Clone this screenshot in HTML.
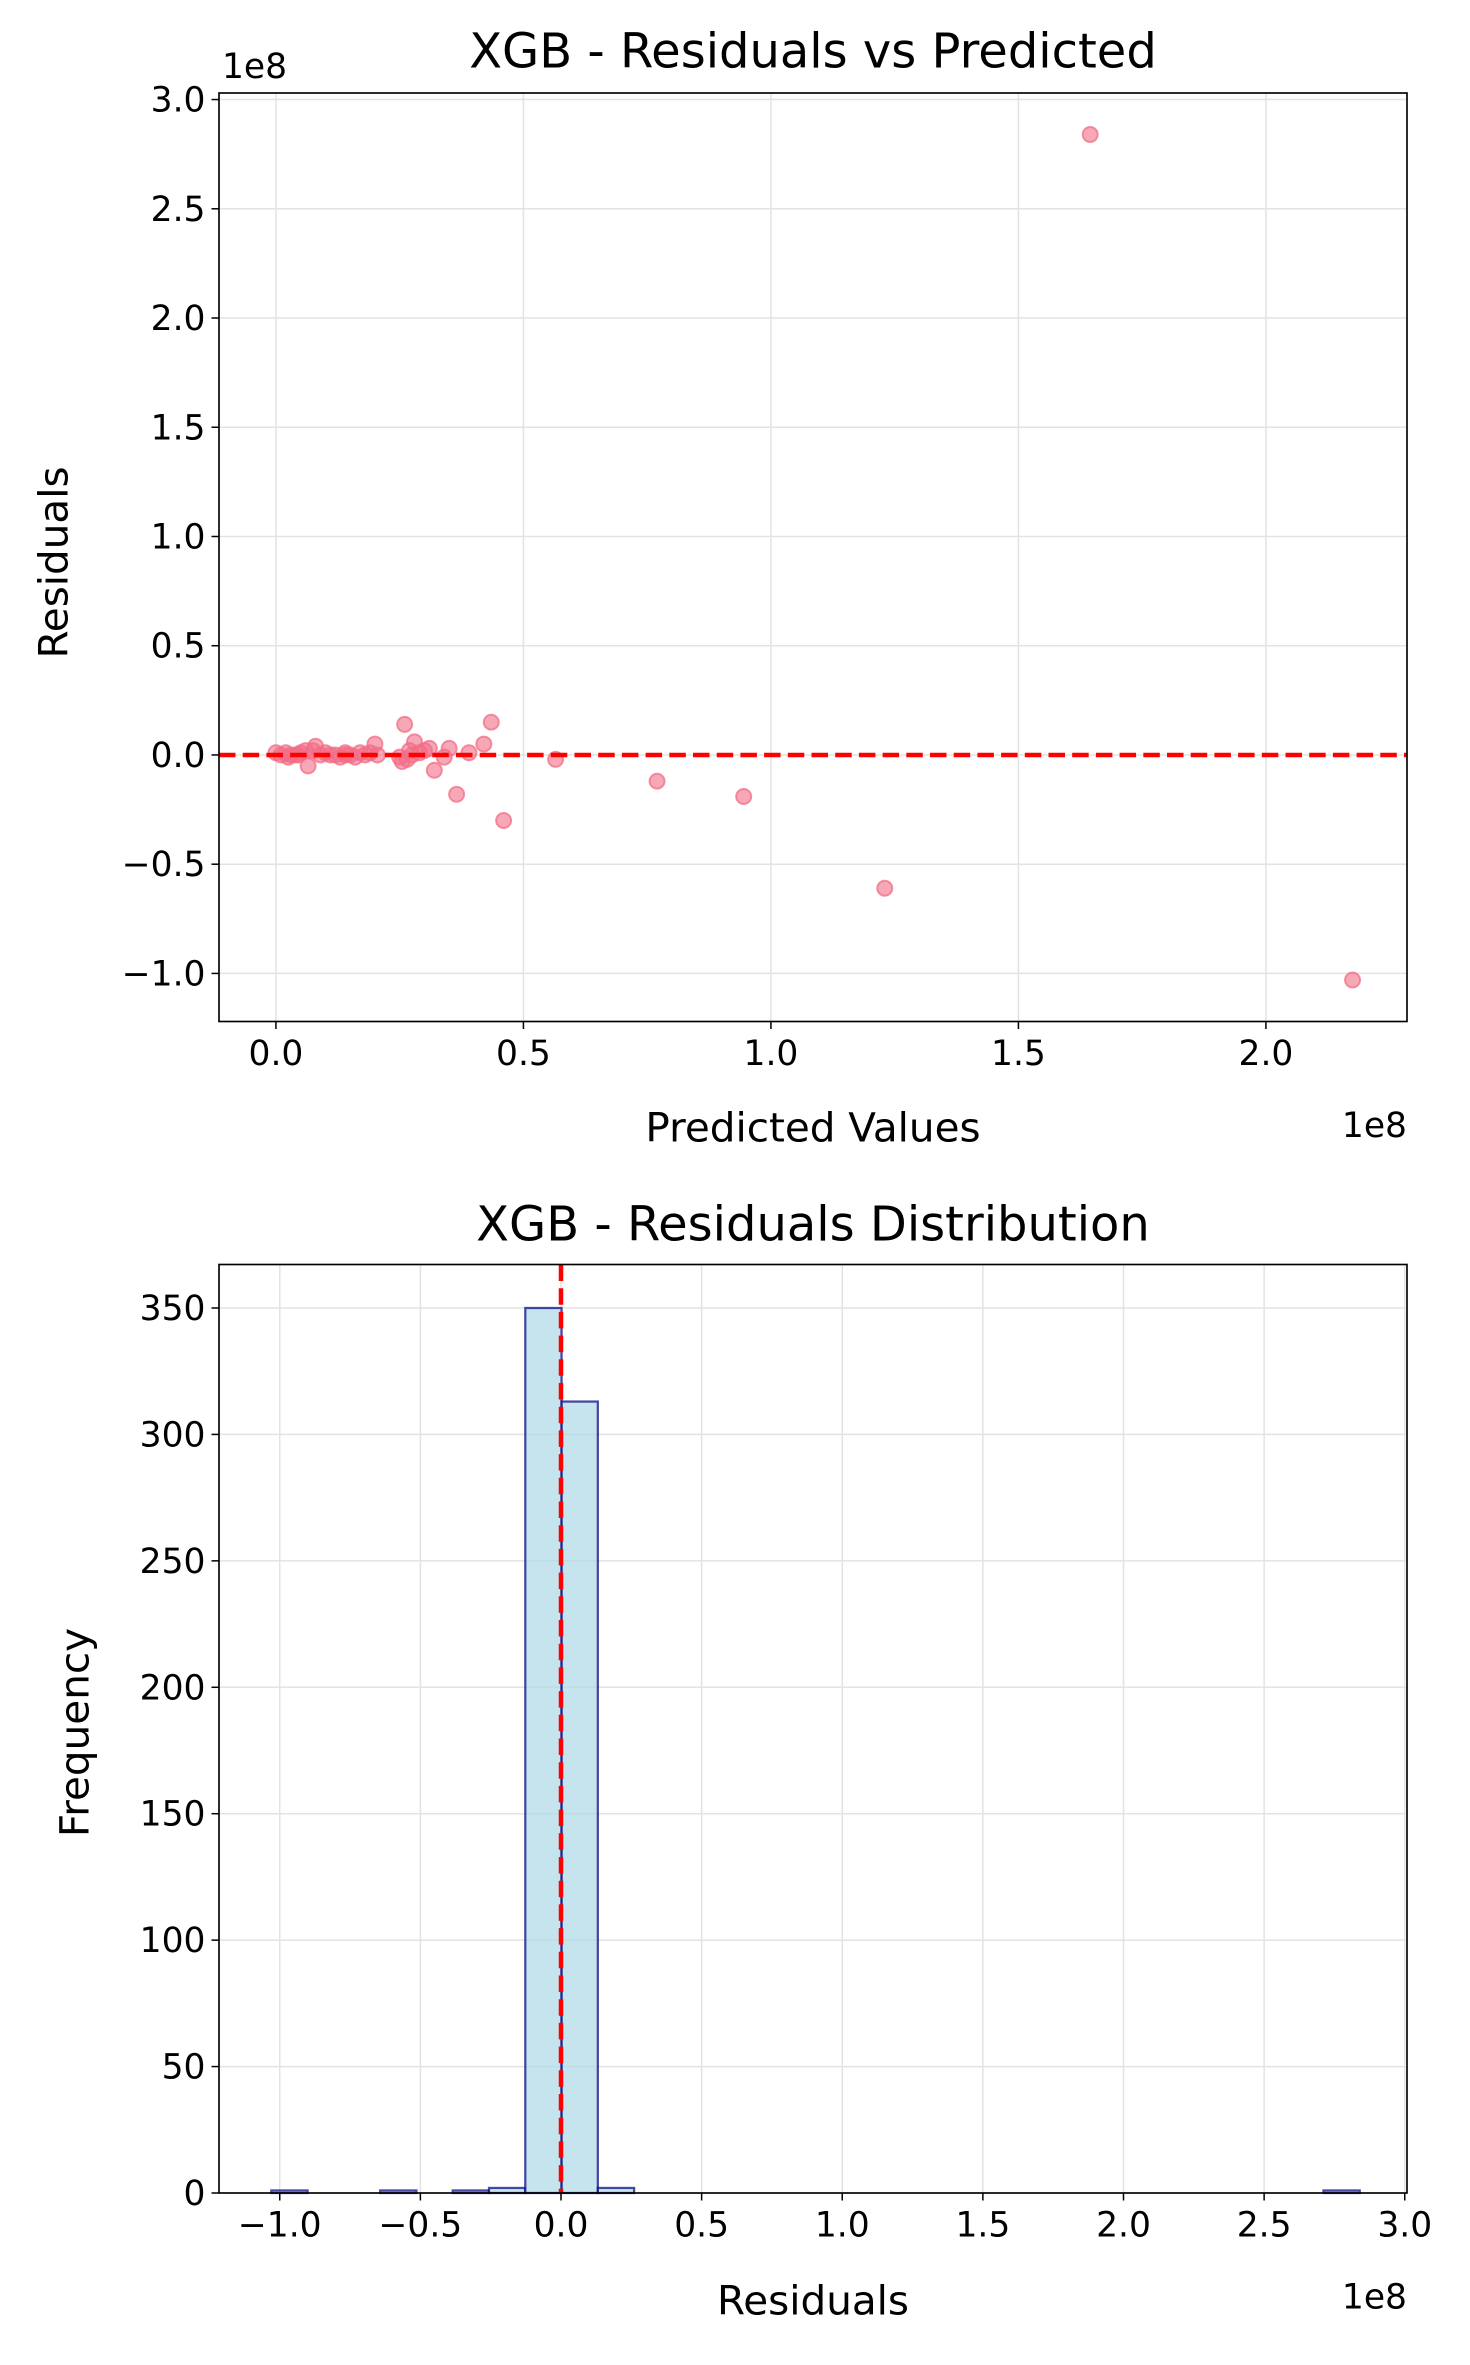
<!DOCTYPE html>
<html><head><meta charset="utf-8"><style>
html,body{margin:0;padding:0;background:#fff}
svg{display:block;font-family:"DejaVu Sans","Liberation Sans",sans-serif}
</style></head><body>
<svg id="fig" width="1470" height="2365" viewBox="0 0 980 1576.67" xmlns="http://www.w3.org/2000/svg">
<rect width="980" height="1576.67" fill="#fff"/>
<g id="top"></g>
<g id="bot"></g>
</svg>
<script>
// Scatter data (units of 1e8)
const predX = [1.645,2.175,1.23,0.945,0.77,0.565,0.46,0.365,0.435,0.26,0.42,0.39,0.35,0.32,0.30,0.28,0.275,0.265,0.25,0.255,0.27,0.29,0.31,0.34,0.065,0.08,0.0,0.01,0.02,0.03,0.04,0.05,0.06,0.09,0.10,0.11,0.12,0.13,0.14,0.15,0.16,0.17,0.18,0.19,0.2,0.205,0.075,0.045,0.14,0.025];
const resid = [2.84,-1.03,-0.61,-0.19,-0.12,-0.02,-0.30,-0.18,0.15,0.14,0.05,0.01,0.03,-0.07,0.02,0.06,0.0,-0.02,-0.01,-0.03,0.02,0.01,0.03,-0.01,-0.05,0.04,0.01,0.0,0.01,0.0,0.0,0.01,0.02,0.0,0.01,0.0,0.0,-0.01,0.0,0.0,-0.01,0.01,0.0,0.01,0.05,0.0,0.02,0.0,0.01,-0.01];
const xTicks1 = [0,0.5,1.0,1.5,2.0];
const xTickLabels1 = ["0.0","0.5","1.0","1.5","2.0"];
const yTicks1 = [-1.0,-0.5,0,0.5,1.0,1.5,2.0,2.5,3.0];
const yTickLabels1 = ["\u22121.0","\u22120.5","0.0","0.5","1.0","1.5","2.0","2.5","3.0"];
// Histogram data
const binStart = -1.03;
const binWidth = 0.129;
const binCounts = [1,0,0,1,0,1,2,350,313,2,0,0,0,0,0,0,0,0,0,0,0,0,0,0,0,0,0,0,0,1];
const xTicks2 = [-1.0,-0.5,0,0.5,1.0,1.5,2.0,2.5,3.0];
const xTickLabels2 = ["\u22121.0","\u22120.5","0.0","0.5","1.0","1.5","2.0","2.5","3.0"];
const yTicks2 = [0,50,100,150,200,250,300,350];

const NS="http://www.w3.org/2000/svg";
function mk(p,tag,attrs,txt){const e=document.createElementNS(NS,tag);for(const k in attrs)e.setAttribute(k,attrs[k]);if(txt!==undefined)e.textContent=txt;p.appendChild(e);return e;}
const FS=23, LS=27, TS=32;

// ---------- top chart ----------
const T=document.getElementById('top');
const L1=146,R1=938,T1=62,B1=681;
const sx1=v=>L1+(v-(-0.115))/(2.285-(-0.115))*(R1-L1);
const sy1=v=>B1-(v-(-1.22))/(3.03-(-1.22))*(B1-T1);
for(const t of xTicks1){const l=mk(T,'line',{x1:sx1(t),x2:sx1(t),y1:T1,y2:B1,stroke:'#e3e3e3','stroke-width':1});

}
for(const t of yTicks1){const l=mk(T,'line',{x1:L1,x2:R1,y1:sy1(t),y2:sy1(t),stroke:'#e3e3e3','stroke-width':1});

}
for(let i=0;i<predX.length;i++){const c=mk(T,'circle',{cx:sx1(predX[i]),cy:sy1(resid[i]),r:5,fill:'rgba(242,110,135,0.6)',stroke:'rgba(242,110,135,0.75)','stroke-width':1.3});

}
const z1=mk(T,'line',{x1:L1,x2:R1,y1:sy1(0),y2:sy1(0),stroke:'#ff0000','stroke-width':3,'stroke-dasharray':'11,4.8'});


mk(T,'rect',{x:L1,y:T1,width:R1-L1,height:B1-T1,fill:'none',stroke:'#000','stroke-width':1.1});
for(let i=0;i<xTicks1.length;i++){const x=sx1(xTicks1[i]);mk(T,'line',{x1:x,x2:x,y1:B1,y2:B1+5,stroke:'#000'});
const t=mk(T,'text',{x:x,y:B1+29,'text-anchor':'middle','font-size':FS},xTickLabels1[i]);

}
for(let i=0;i<yTicks1.length;i++){const y=sy1(yTicks1[i]);mk(T,'line',{x1:L1-5,x2:L1,y1:y,y2:y,stroke:'#000'});
const t=mk(T,'text',{x:L1-9,y:y+8,'text-anchor':'end','font-size':FS},yTickLabels1[i]);

}
mk(T,'text',{x:148,y:52,'font-size':FS,},'1e8');
mk(T,'text',{x:938,y:758,'font-size':FS,'text-anchor':'end',},'1e8');
mk(T,'text',{x:542,y:45,'font-size':TS,'text-anchor':'middle',},'XGB - Residuals vs Predicted');
mk(T,'text',{x:542,y:761,'font-size':LS,'text-anchor':'middle',},'Predicted Values');
mk(T,'text',{x:45,y:375,'font-size':LS,'text-anchor':'middle',transform:'rotate(-90 45 375)',},'Residuals');

// ---------- bottom chart ----------
const Bg=document.getElementById('bot');
const L2=146,R2=938,T2=843,B2=1462;
const sx2=v=>374+v*187.5;
const sy2=v=>B2-v*(1462-872)/350;
for(const t of xTicks2){const l=mk(Bg,'line',{x1:sx2(t),x2:sx2(t),y1:T2,y2:B2,stroke:'#e3e3e3','stroke-width':1});

}
for(const t of yTicks2){const l=mk(Bg,'line',{x1:L2,x2:R2,y1:sy2(t),y2:sy2(t),stroke:'#e3e3e3','stroke-width':1});

}
for(let i=0;i<binCounts.length;i++){const x0=sx2(binStart+i*binWidth),x1=sx2(binStart+(i+1)*binWidth);
const r=mk(Bg,'rect',{x:x0,y:sy2(binCounts[i]),width:x1-x0,height:B2-sy2(binCounts[i]),fill:'rgba(173,216,230,0.7)',stroke:'rgba(0,0,128,0.7)','stroke-width':1.5});

}
const z2=mk(Bg,'line',{x1:sx2(0),x2:sx2(0),y1:T2,y2:B2,stroke:'#ff0000','stroke-width':3,'stroke-dasharray':'11,4.8'});


mk(Bg,'rect',{x:L2,y:T2,width:R2-L2,height:B2-T2,fill:'none',stroke:'#000','stroke-width':1.1});
for(let i=0;i<xTicks2.length;i++){const x=sx2(xTicks2[i]);mk(Bg,'line',{x1:x,x2:x,y1:B2,y2:B2+5,stroke:'#000'});
const t=mk(Bg,'text',{x:x,y:B2+29,'text-anchor':'middle','font-size':FS},xTickLabels2[i]);

}
for(const v of yTicks2){const y=sy2(v);mk(Bg,'line',{x1:L2-5,x2:L2,y1:y,y2:y,stroke:'#000'});
const t=mk(Bg,'text',{x:L2-9,y:y+8,'text-anchor':'end','font-size':FS},String(v));

}
mk(Bg,'text',{x:938,y:1539,'font-size':FS,'text-anchor':'end',},'1e8');
mk(Bg,'text',{x:542,y:827,'font-size':TS,'text-anchor':'middle',},'XGB - Residuals Distribution');
mk(Bg,'text',{x:542,y:1543,'font-size':LS,'text-anchor':'middle',},'Residuals');
mk(Bg,'text',{x:59,y:1155,'font-size':LS,'text-anchor':'middle',transform:'rotate(-90 59 1155)',},'Frequency');
</script>
</body></html>
